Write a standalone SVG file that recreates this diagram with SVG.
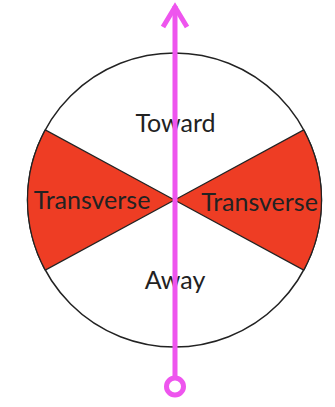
<svg xmlns="http://www.w3.org/2000/svg" width="335" height="407" viewBox="0 0 335 407">
<style>
.lbl{font-family:Lato,"Open Sans","Liberation Sans",sans-serif;font-size:25px;fill:#222;text-anchor:middle}
.wedge{fill:#EE3D24;stroke:#222;stroke-width:1.2}
.ptr{stroke:#EE55EE;stroke-width:5;fill:none}
</style>
<rect width="335" height="407" fill="#fff"/>
<g id="circle">
<circle cx="174.5" cy="200" r="147" fill="#fff" stroke="#222" stroke-width="1.5"/>
</g>
<g id="transverse-left">
<path class="wedge" d="M174.5,200 L45.3,129.9 A147,147 0 0 0 45.3,270.1 Z"/>
<text class="lbl" x="92" y="209">Transverse</text>
</g>
<g id="transverse-right">
<path class="wedge" d="M174.5,200 L303.7,129.9 A147,147 0 0 1 303.7,270.1 Z"/>
<text class="lbl" x="259.5" y="211">Transverse</text>
</g>
<g id="toward">
<text class="lbl" x="175.5" y="132">Toward</text>
</g>
<g id="away">
<text class="lbl" x="175" y="289">Away</text>
</g>
<g id="connectors">
<line class="ptr" x1="175" y1="378" x2="175" y2="6"/>
<polyline class="ptr" points="163,27 175,7 187,27" stroke-linejoin="miter"/>
<circle class="ptr" cx="175" cy="386.5" r="8.5"/>
</g>
</svg>
